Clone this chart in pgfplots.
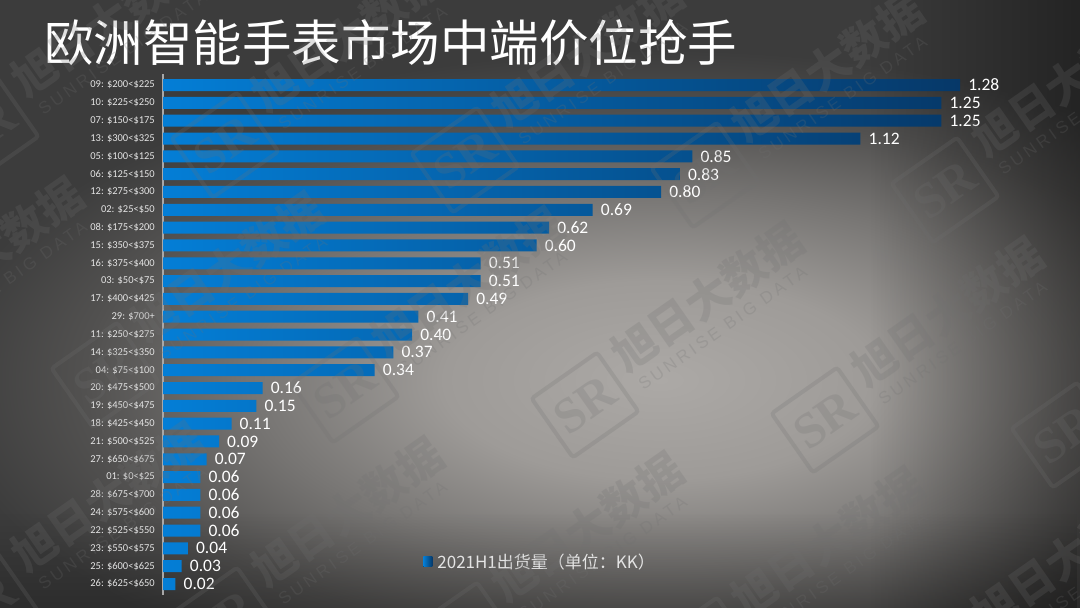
\documentclass[border=0pt]{standalone}
\usepackage{pgfplots}
\pgfplotsset{compat=1.18}
\usetikzlibrary{fadings}
\usepackage{fontspec}
\setmainfont{Carlito}
\newfontfamily\cjk{Noto Sans CJK SC}
\newfontfamily\wmlat[LetterSpace=20]{Liberation Sans}
\newfontfamily\wmser{Liberation Serif}
\definecolor{barL}{RGB}{4,126,214}
\definecolor{barR}{RGB}{6,56,104}
\definecolor{lbl}{RGB}{228,228,228}
\definecolor{c0}{RGB}{172,169,166}
\definecolor{c1}{RGB}{158,155,152}
\definecolor{c2}{RGB}{120,118,116}
\definecolor{c3}{RGB}{82,81,80}
\definecolor{c4}{RGB}{60,60,60}
\definecolor{wmc}{RGB}{112,112,112}
\pgfdeclareradialshading{bg}{\pgfpoint{0bp}{0bp}}{%
  color(0bp)=(c0); color(7.5bp)=(c1); color(14bp)=(c2); color(20bp)=(c3); color(25bp)=(c4); color(50bp)=(c4)}
\tikzfading[name=fadeR, left color=transparent!100, right color=transparent!0]
\tikzfading[name=fadeD, top color=transparent!100, bottom color=transparent!0]
\newcommand\wm[2]{%
  \begin{scope}[shift={(#1,608-#2)}, rotate=35, transform shape, opacity=0.22]
    \draw[wmc, line width=4pt, rounded corners=3pt] (-40,-36) rectangle (40,36);
    \node[text=wmc, font=\wmser\bfseries\fontsize{50}{50}\selectfont, inner sep=0pt] at (0,0) {SR};
    \node[text=wmc, font=\cjk\bfseries\fontsize{44}{44}\selectfont, inner sep=0pt, anchor=west] at (52,18) {旭日大数据};
    \node[text=wmc, font=\wmlat\fontsize{17}{17}\selectfont, inner sep=0pt, anchor=west] at (56,-16) {SUNRISE BIG DATA};
  \end{scope}}
\begin{document}
\begin{tikzpicture}[x=1pt,y=1pt]
\useasboundingbox (0,0) rectangle (1080,608);
\begin{scope}
\clip (0,0) rectangle (1080,608);
\fill[c4] (0,0) rectangle (1080,608);
\shade[shading=bg] (-60,-102) rectangle (1380,558);
\fill[black, opacity=0.40, path fading=fadeR] (870,0) rectangle (1080,608);
\fill[black, opacity=0.25, path fading=fadeD] (0,0) rectangle (1080,95);
\end{scope}
\node[anchor=west, text=white, font=\cjk\fontsize{49.5}{50}\selectfont, inner sep=0pt] at (44,565) {欧洲智能手表市场中端价位抢手};
\begin{axis}[
  at={(163pt,13.3pt)}, anchor=south west,
  scale only axis, width=871.8pt, height=520.3pt,
  xmin=0, xmax=1.4, ymin=-0.6, ymax=28.6,
  xbar, bar width=12pt,
  axis x line=none, axis y line=left,
  y axis line style={-, draw=white!66!black, line width=2.2pt},
  xtick=\empty,
  ytick={0,...,28},
  major tick length=0pt,
  yticklabels={
    26: \$625<\$650, 25: \$600<\$625, 23: \$550<\$575, 22: \$525<\$550,
    24: \$575<\$600, 28: \$675<\$700, 01: \$0<\$25, 27: \$650<\$675,
    21: \$500<\$525, 18: \$425<\$450, 19: \$450<\$475, 20: \$475<\$500,
    04: \$75<\$100, 14: \$325<\$350, 11: \$250<\$275, 29: \$700+,
    17: \$400<\$425, 03: \$50<\$75, 16: \$375<\$400, 15: \$350<\$375,
    08: \$175<\$200, 02: \$25<\$50, 12: \$275<\$300, 06: \$125<\$150,
    05: \$100<\$125, 13: \$300<\$325, 07: \$150<\$175, 10: \$225<\$250,
    09: \$200<\$225},
  yticklabel style={font=\fontsize{10.5}{11}\selectfont, text=lbl, inner sep=0pt, xshift=-8pt},
  nodes near coords,
  nodes near coords style={font=\fontsize{17.5}{18}\selectfont, text=white, inner sep=0pt, xshift=8pt,
    /pgf/number format/fixed, /pgf/number format/fixed zerofill, /pgf/number format/precision=2},
  /pgf/number format/assume math mode=true,
  legend style={at={(0.295,0.063)}, anchor=west, draw=none, fill=none, column sep=3pt,
    font=\cjk\fontsize{17}{18}\selectfont, text=lbl},
  legend image code/.code={\fill[left color=barL, right color=barR] (0pt,-5pt) rectangle (9pt,5pt);},
  clip=false,
]
\addplot[draw=none, left color=barL, right color=barR] coordinates {
(0.02,0) (0.03,1) (0.04,2) (0.06,3) (0.06,4) (0.06,5) (0.06,6) (0.07,7)
(0.09,8) (0.11,9) (0.15,10) (0.16,11) (0.34,12) (0.37,13) (0.40,14) (0.41,15)
(0.49,16) (0.51,17) (0.51,18) (0.60,19) (0.62,20) (0.69,21) (0.80,22) (0.83,23)
(0.85,24) (1.12,25) (1.25,26) (1.25,27) (1.28,28)};
\addlegendentry{2021H1出货量（单位：KK）}
\end{axis}
\begin{scope}
\clip (0,0) rectangle (1080,608);
\wm{-15}{130}\wm{225}{145}\wm{465}{160}\wm{705}{175}\wm{945}{190}
\wm{-135}{360}\wm{105}{375}\wm{345}{390}\wm{585}{405}\wm{825}{420}\wm{1065}{435}
\wm{-15}{605}\wm{225}{620}\wm{465}{635}\wm{705}{650}\wm{945}{665}
\end{scope}
\end{tikzpicture}
\end{document}
